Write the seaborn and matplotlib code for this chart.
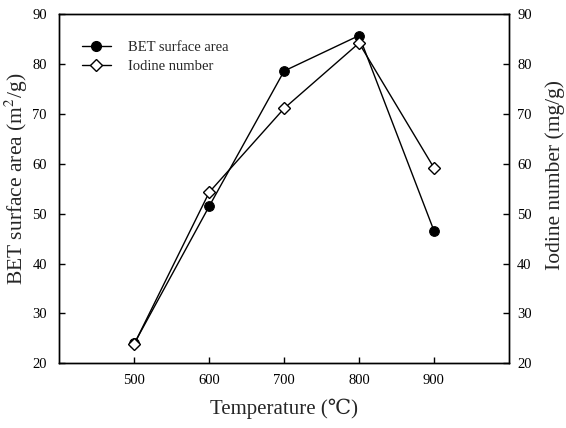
import matplotlib
matplotlib.use("Agg")
import matplotlib.pyplot as plt
import seaborn as sns
import pandas as pd
from matplotlib.lines import Line2D

temperature = [500, 600, 700, 800, 900]
bet_area = [24.0, 51.5, 78.6, 85.7, 46.6]
iodine_number = [23.9, 54.3, 71.1, 84.2, 59.2]

x_ticks = [500, 600, 700, 800, 900]
y_ticks = [20, 30, 40, 50, 60, 70, 80, 90]

sns.set_theme(style="ticks")
plt.rcParams["font.family"] = ["Liberation Serif", "DejaVu Serif"]
plt.rcParams["mathtext.fontset"] = "stix"

fig = plt.figure(figsize=(5.66, 4.28), dpi=100)
ax = fig.add_axes([0.105, 0.151, 0.794, 0.816])
ax2 = ax.twinx()

df = pd.DataFrame({"T": temperature, "BET": bet_area, "Iodine": iodine_number})

sns.lineplot(data=df, x="T", y="BET", ax=ax, color="black", linewidth=1.0,
             marker="o", markersize=7, markerfacecolor="black",
             markeredgecolor="black", zorder=3)
sns.lineplot(data=df, x="T", y="Iodine", ax=ax2, color="black", linewidth=1.0,
             marker="D", markersize=6.5, markerfacecolor="white",
             markeredgecolor="black", markeredgewidth=1.0, zorder=4)

for a in (ax, ax2):
    a.set_xlim(400, 1000)
    a.set_ylim(20, 90)
    a.set_yticks(y_ticks)
    a.set_ylabel("")
    for s in a.spines.values():
        s.set_color("black")
        s.set_linewidth(1.0)

ax.set_xticks(x_ticks)
ax.tick_params(axis="both", direction="in", length=4, width=1, labelsize=10.5,
               colors="black", pad=8)
ax.tick_params(axis="y", pad=9)
ax2.tick_params(axis="y", direction="in", length=4, width=1, labelsize=10.5,
                colors="black", pad=6)

ax.set_xlabel("Temperature (℃)", fontsize=15, labelpad=8)

# Axis titles for the two y scales, placed beside the tick labels
fig.text(0.029, 0.583, "BET surface area (m$^2$/g)", rotation=90,
         ha="center", va="center", fontsize=15.5)
fig.text(0.980, 0.591, "Iodine number (mg/g)", rotation=90,
         ha="center", va="center", fontsize=15.5)

handles = [
    Line2D([], [], color="black", linewidth=1.0, marker="o", markersize=7,
           markerfacecolor="black"),
    Line2D([], [], color="black", linewidth=1.0, marker="D", markersize=6.5,
           markerfacecolor="white", markeredgecolor="black"),
]
ax.legend(handles, ["BET surface area", "Iodine number"], loc="upper left",
          bbox_to_anchor=(0.02, 0.96), frameon=False, fontsize=10.5,
          handlelength=2.0, handletextpad=1.2, labelspacing=0.35)

fig.savefig("out.png", dpi=100)
